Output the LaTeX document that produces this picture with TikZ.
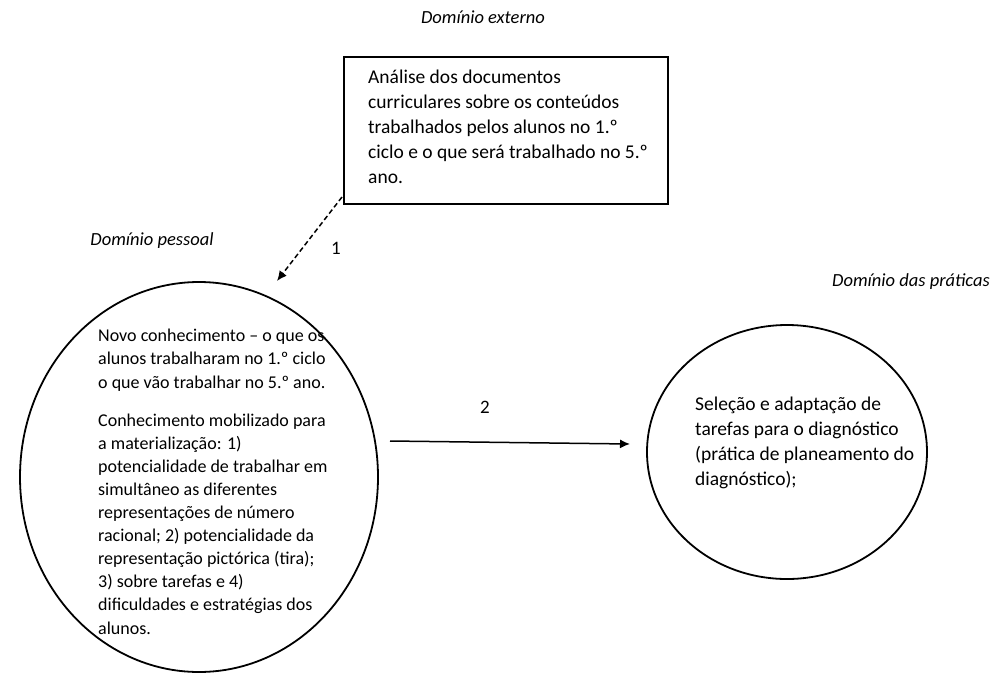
\documentclass[tikz,border=0pt]{standalone}
\usepackage{fontspec}
\setmainfont{Carlito}
\usetikzlibrary{shapes.geometric,arrows.meta}
\tikzset{
  lbl/.style={font=\fontsize{18.5pt}{22pt}\selectfont\itshape, inner sep=0pt},
  num/.style={font=\fontsize{19pt}{22pt}\selectfont, inner sep=0pt},
  bigtxt/.style={font=\fontsize{19.5pt}{25pt}\selectfont, align=left, inner sep=0pt, anchor=base west},
  smalltxt/.style={font=\fontsize{18pt}{23.1pt}\selectfont, align=left, inner sep=0pt, anchor=base west},
  bubble/.style={ellipse, draw, line width=1.8pt, inner sep=0pt},
  frame/.style={draw, line width=1.2pt, inner sep=0pt},
  conn/.style={line width=1.5pt, -{Latex[length=10pt,width=9pt]}},
}
\begin{document}
\begin{tikzpicture}[x=1pt,y=-1pt]
\useasboundingbox (0,0) rectangle (997,673);
% labels of domains
\node[lbl] (dext) at (483,17) {Domínio externo};
\node[lbl] (dpes) at (152,241) {Domínio pessoal};
\node[lbl] (dpra) at (911,282) {Domínio das práticas};
% box
\node[frame, minimum width=324pt, minimum height=147pt] (box) at (506,130.5) {};
\node[bigtxt] (boxtxt) at (368,183) {Análise dos documentos\\curriculares sobre os conteúdos\\trabalhados pelos alunos no 1.º\\ciclo e o que será trabalhado no 5.º\\ano.};
% circles
\node[bubble, minimum width=358pt, minimum height=390pt] (lc) at (199,477) {};
\node[bubble, minimum width=280pt, minimum height=254pt] (rc) at (787,452) {};
\node[smalltxt] (lt1) at (98,388) {Novo conhecimento – o que os\\alunos trabalharam no 1.º ciclo\\o que vão trabalhar no 5.º ano.};
\node[smalltxt] (lt2) at (98,634) {Conhecimento mobilizado para\\a materialização: 1)\\potencialidade de trabalhar em\\simultâneo as diferentes\\representações de número\\racional; 2) potencialidade da\\representação pictórica (tira);\\3) sobre tarefas e 4)\\dificuldades e estratégias dos\\alunos.};
\node[bigtxt] (rt) at (695,485) {Seleção e adaptação de\\tarefas para o diagnóstico\\(prática de planeamento do\\diagnóstico);};
% connectors
\coordinate (a1s) at (342,197);
\coordinate (a1e) at (277,281);
\draw[conn, dashed, dash pattern=on 5pt off 3pt] (a1s) -- (a1e);
\node[num] (n1) at (336,248) {1};
\coordinate (a2s) at (390,441);
\coordinate (a2e) at (630,444);
\draw[conn] (a2s) -- (a2e);
\node[num] (n2) at (485,407) {2};
\end{tikzpicture}
\end{document}
